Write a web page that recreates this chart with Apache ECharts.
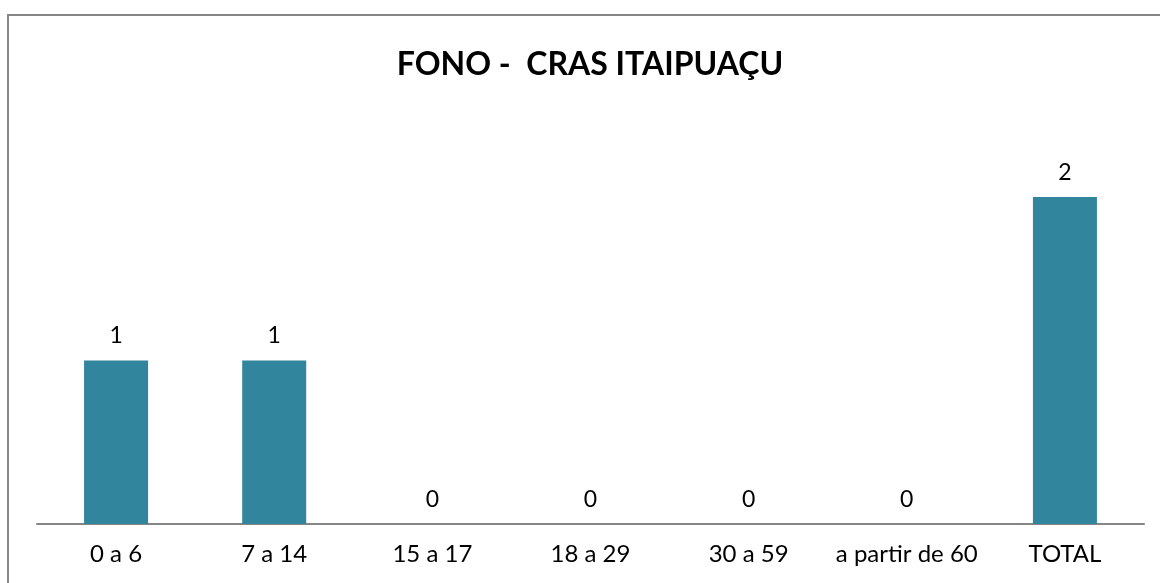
<!DOCTYPE html>
<html><head><meta charset="utf-8">
<script src="https://cdn.jsdelivr.net/npm/echarts@6/dist/echarts.min.js"></script>
<style>html,body{margin:0;padding:0;background:#fff}#c{width:1160px;height:583px}</style>
</head><body><div id="c"></div>
<script>
const categories = ['0 a 6', '7 a 14', '15 a 17', '18 a 29', '30 a 59', 'a partir de 60', 'TOTAL'];
const values = [1, 1, 0, 0, 0, 0, 2];
const titleText = 'FONO -  CRAS ITAIPUAÇU';

const chart = echarts.init(document.getElementById('c'), null, {renderer: 'canvas'});
const font = 'Lato, "Open Sans", sans-serif';
chart.setOption({
  animation: false,
  backgroundColor: '#fff',
  graphic: [{
    type: 'rect', shape: {x: 8, y: 15, width: 1200, height: 700},
    style: {fill: 'none', stroke: '#868686', lineWidth: 2}, silent: true
  }],
  title: {
    text: titleText, left: 585, top: 44, textAlign: 'center',
    textStyle: {fontFamily: font, fontWeight: 'bold', fontSize: 32, color: '#000'}
  },
  grid: {left: 37, right: 16, top: 197, bottom: 59, containLabel: false},
  xAxis: {
    type: 'category', data: categories,
    axisLine: {lineStyle: {color: '#868686', width: 2}},
    axisTick: {show: false},
    axisLabel: {fontFamily: font, fontSize: 24, color: '#000', margin: 18, interval: 0}
  },
  yAxis: {type: 'value', min: 0, max: 2, show: false, splitLine: {show: false}},
  series: [{
    type: 'bar', data: values, barWidth: 64,
    itemStyle: {color: '#31859C'},
    label: {show: true, position: 'top', distance: 13, fontFamily: font, fontSize: 23, color: '#000'}
  }]
});
</script></body></html>
